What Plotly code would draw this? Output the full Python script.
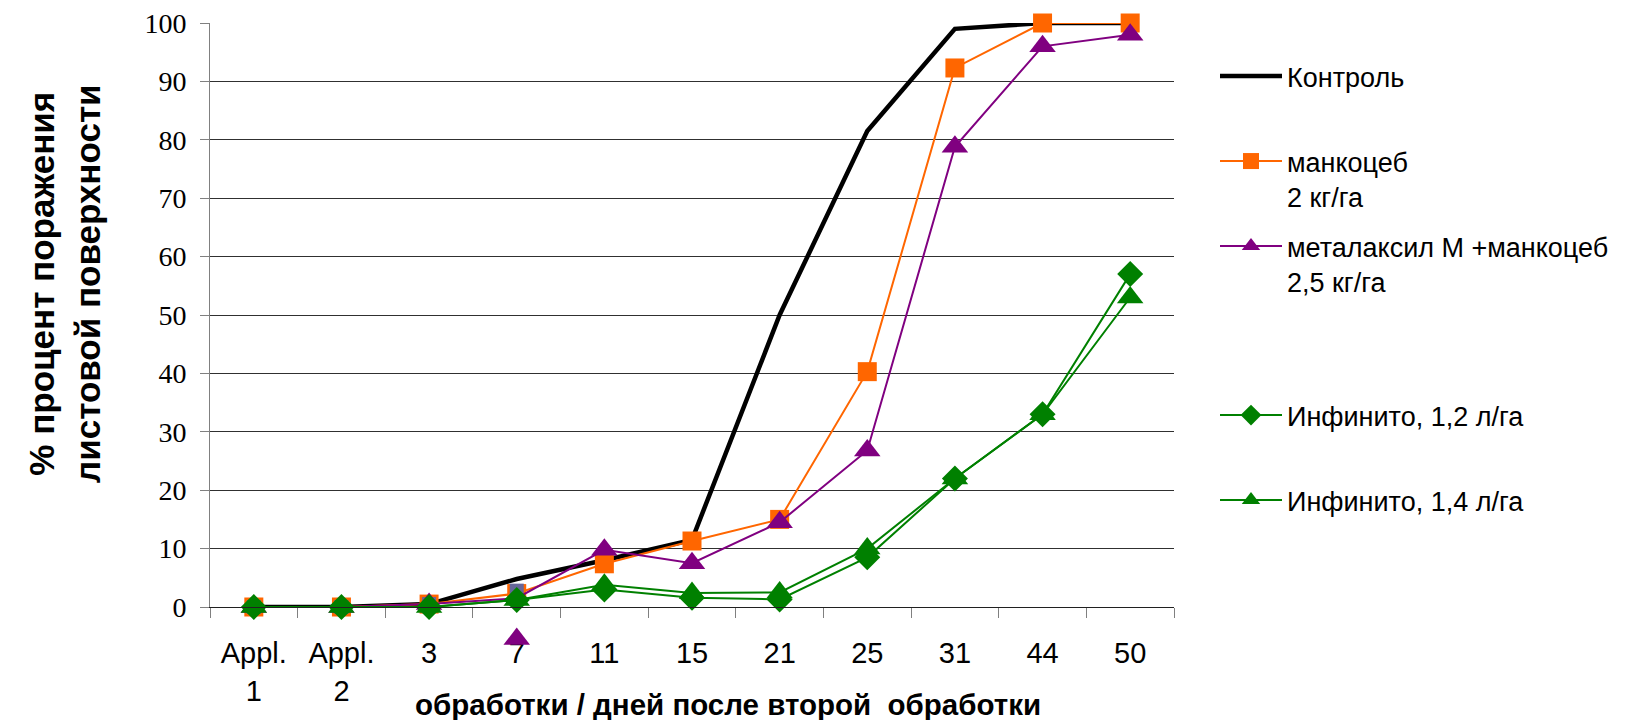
import plotly.graph_objects as go

# ---------------- data ----------------
categories = ["Appl.<br>1", "Appl.<br>2", "3", "7", "11", "15", "21", "25", "31", "44", "50"]

control   = [0, 0, 0.5, 4.8, 8.0, 11.5, 50.0, 81.5, 99.0, 100, 100]
mancozeb  = [0, 0, 0.5, 2.3, 7.4, 11.3, 15.0, 40.3, 92.3, 100, 100]
metalaxyl = [0, 0, 0.5, 1.5, 9.8, 7.5, 14.5, 26.8, 78.8, 96.0, 98.0]
infinito_12 = [0, 0, 0, 1.2, 3.0, 1.6, 1.3, 8.5, 22.0, 33.0, 57.0]
infinito_14 = [0, 0, 0, 1.2, 3.8, 2.4, 2.5, 10.0, 22.0, 33.0, 53.0]

# partly hidden grey series visible under the orange squares
grey_cats = ["Appl.<br>1", "Appl.<br>2", "3", "7"]
grey_vals = [0, 0, 0.5, 2.8]

# displaced purple marker that appears below the axis at "7"
stray_cats = ["7"]
stray_vals = [-5.5]

names = ["Контроль", "манкоцеб<br>2 кг/га", "металаксил М +манкоцеб<br>2,5 кг/га",
         "Инфинито, 1,2 л/га", "Инфинито, 1,4 л/га"]

x_title = "обработки / дней после второй \u00a0обработки"
y_title = "% процент поражения<br>листовой поверхности"

# ---------------- geometry ----------------
OFF = 8                          # page body margin of the html page
W, H = 1644 - OFF, 720 - OFF
# screen positions (px) converted into figure positions
PL, PR, PT = 210 - OFF, 1174 - OFF, 23 - OFF
PB = 607 - OFF                   # y = 0 line
PAPER_B = 660 - OFF              # bottom of paper area, room for the stray marker

def px_x(px):
    return (px - OFF - PL) / (PR - PL)

def px_y(py):
    return (PAPER_B - (py - OFF)) / (PAPER_B - PT)

main_dom0 = (PAPER_B - PB) / (PAPER_B - PT)
units_per_px = 100.0 / (PB - PT)
low_range = -(PAPER_B - PB) * units_per_px

ORANGE = "#FF6600"
PURPLE = "#800080"
GREEN = "#008000"
GREY = "#666699"

fig = go.Figure()

fig.add_trace(go.Scatter(x=categories, y=control, name=names[0], mode="lines",
                         line=dict(color="black", width=4.5), legend="legend",
                         cliponaxis=False))
fig.add_trace(go.Scatter(x=categories, y=mancozeb, name=names[1], mode="lines+markers",
                         line=dict(color=ORANGE, width=2),
                         marker=dict(symbol="square", size=19, color=ORANGE, opacity=1,
                                     line=dict(width=0)),
                         legend="legend2", cliponaxis=False))
fig.add_trace(go.Scatter(x=grey_cats, y=grey_vals, mode="markers", showlegend=False,
                         marker=dict(symbol="square", size=14, color=GREY, opacity=1,
                                     line=dict(width=0)),
                         cliponaxis=False, hoverinfo="skip"))
fig.add_trace(go.Scatter(x=categories, y=metalaxyl, name=names[2], mode="lines+markers",
                         line=dict(color=PURPLE, width=2),
                         marker=dict(symbol="triangle-up", color=PURPLE, opacity=1,
                                     line=dict(width=0),
                                     size=[0 if c == "7" else 23 for c in categories]),
                         legend="legend3", cliponaxis=False))
fig.add_trace(go.Scatter(x=stray_cats, y=stray_vals, mode="markers", showlegend=False,
                         marker=dict(symbol="triangle-up", size=23, color=PURPLE, opacity=1,
                                     line=dict(width=0)),
                         xaxis="x", yaxis="y2", cliponaxis=False, hoverinfo="skip"))
fig.add_trace(go.Scatter(x=categories, y=infinito_12, name=names[3], mode="lines+markers",
                         line=dict(color=GREEN, width=2),
                         marker=dict(symbol="diamond", size=20, color=GREEN, opacity=1,
                                     line=dict(width=0)),
                         legend="legend4", cliponaxis=False))
fig.add_trace(go.Scatter(x=categories, y=infinito_14, name=names[4], mode="lines+markers",
                         line=dict(color=GREEN, width=2),
                         marker=dict(symbol="triangle-up", size=23, color=GREEN, opacity=1,
                                     line=dict(width=0)),
                         legend="legend5", cliponaxis=False))

legend_font = dict(family="Liberation Sans, Arial", size=27, color="black")
leg_x = px_x(1215)
leg_tops = [52, 137, 222, 391, 476]
legend_common = dict(x=leg_x, xanchor="left", yanchor="top", bgcolor="rgba(0,0,0,0)",
                     borderwidth=0, font=legend_font, itemwidth=62, valign="top",
                     itemclick=False, itemdoubleclick=False)

layout_legends = {}
for i, key in enumerate(["legend", "legend2", "legend3", "legend4", "legend5"]):
    layout_legends[key] = dict(legend_common, y=px_y(leg_tops[i]))

fig.update_layout(
    width=W, height=H,
    margin=dict(l=PL, r=W - PR, t=PT, b=H - PAPER_B, pad=0, autoexpand=False),
    paper_bgcolor="white", plot_bgcolor="rgba(0,0,0,0)",
    showlegend=True,
    font=dict(family="Liberation Sans, Arial", color="black"),
    xaxis=dict(type="category", categoryorder="array", categoryarray=categories,
               range=[-0.5, len(categories) - 0.5], anchor="y",
               showline=True, linecolor="#202020", linewidth=1,
               ticks="outside", tickson="boundaries", ticklen=10, tickcolor="#808080",
               showgrid=False, zeroline=False,
               tickfont=dict(family="Liberation Sans, Arial", size=29, color="black"),
               ticklabelstandoff=20),
    yaxis=dict(domain=[main_dom0, 1], range=[0, 100], dtick=10,
               showgrid=True, gridcolor="#303030", gridwidth=1,
               showline=True, linecolor="#808080", linewidth=1,
               ticks="outside", ticklen=9, tickcolor="#808080", zeroline=False,
               tickfont=dict(family="Liberation Serif, Times New Roman", size=28, color="black"),
               ticklabelstandoff=8, ticklabeloverflow="allow"),
    yaxis2=dict(domain=[0, main_dom0], range=[low_range, 0], anchor="x",
                visible=False, showgrid=False, zeroline=False),
    annotations=[
        dict(text=x_title, x=px_x(728), y=px_y(704), xref="paper", yref="paper",
             xanchor="center", yanchor="middle", showarrow=False,
             font=dict(family="Liberation Sans, Arial", size=29.5, color="black",
                       weight="bold")),
        dict(text=y_title, x=px_x(64), y=px_y(284), xref="paper", yref="paper",
             xanchor="center", yanchor="middle", showarrow=False, textangle=-90,
             font=dict(family="Liberation Sans, Arial", size=35, color="black",
                       weight="bold")),
    ],
    **layout_legends,
)

fig.write_html("out.html")
